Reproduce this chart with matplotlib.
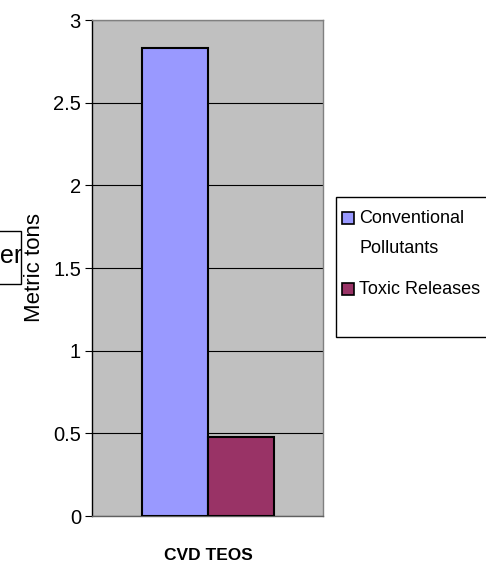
import matplotlib.pyplot as plt
from matplotlib.patches import Rectangle

plt.rcParams['font.family'] = ['Liberation Sans', 'DejaVu Sans']

# emissions for the CVD TEOS step
series = ['Conventional\nPollutants', 'Toxic Releases']
values = [2.83, 0.48]
colors = ['#9999FF', '#993366']
category = 'CVD TEOS'
yticks = [0, 0.5, 1, 1.5, 2, 2.5, 3]

W, H = 486, 569
fig = plt.figure(figsize=(W / 100, H / 100), dpi=100)
ax = fig.add_axes([92 / W, 53 / H, 231 / W, 496 / H])
ax.set_facecolor('#C0C0C0')

for i in range(len(values)):
    ax.bar(i, values[i], width=1.0, color=colors[i], edgecolor='black',
           linewidth=1.5, zorder=3)

ax.set_ylim(0, 3)
ax.set_xlim(-1.258, 2.242)
ax.set_yticks(yticks)
ax.set_yticklabels(['0', '0.5', '1', '1.5', '2', '2.5', '3'], fontsize=14.5)
ax.yaxis.grid(True, color='black', linewidth=0.8, zorder=1)
ax.tick_params(axis='y', direction='out', length=5, width=0.8, pad=3)
ax.set_xticks([])

for side in ['top', 'right']:
    ax.spines[side].set_color('#808080')
ax.spines['bottom'].set_color('#606060')
ax.spines['left'].set_color('black')
for s in ax.spines.values():
    s.set_linewidth(1.0)

# axis titles
fig.text(208 / W, 1 - 556 / H, category, fontsize=12.5, fontweight='bold',
         ha='center', va='center')
fig.text(34 / W, 1 - 268 / H, 'Metric tons', fontsize=16, rotation=90,
         ha='center', va='center')

# legend box, running past the right edge
fig.patches.append(Rectangle((336 / W, 1 - 337 / H), 200 / W, 140 / H,
                             transform=fig.transFigure, facecolor='white',
                             edgecolor='black', linewidth=1.0))
key_y = [218, 289]
for i in range(len(series)):
    fig.patches.append(Rectangle((342 / W, 1 - (key_y[i] + 6) / H), 12 / W, 12 / H,
                                 transform=fig.transFigure, facecolor=colors[i],
                                 edgecolor='black', linewidth=1.2))
fig.text(359 / W, 1 - 210 / H, series[0], fontsize=13, ha='left', va='top',
         linespacing=2.0)
fig.text(359 / W, 1 - 289 / H, series[1], fontsize=13, ha='left', va='center')

# stray text box cut off at the left edge
fig.patches.append(Rectangle((-10 / W, 1 - 284 / H), 31 / W, 53 / H,
                             transform=fig.transFigure, facecolor='white',
                             edgecolor='black', linewidth=1.0))
fig.text(0, 1 - 256 / H, 'er', fontsize=18, ha='left', va='center')

fig.savefig('out.png', dpi=100)
